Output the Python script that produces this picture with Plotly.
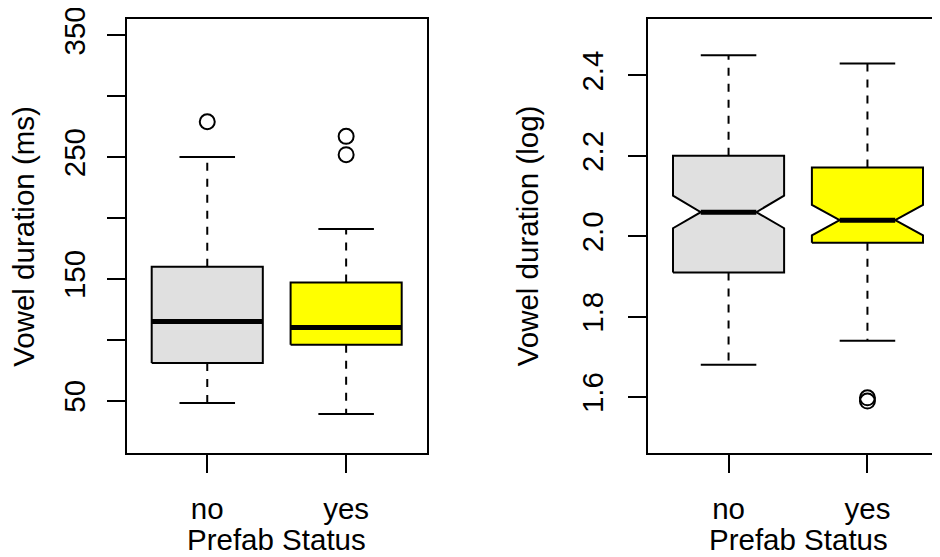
import plotly.graph_objects as go

# ---------------- data ----------------
categories = ["no", "yes"]

# Vowel duration (ms)
ms_lower = [48, 39]
ms_q1 = [81, 96]
ms_median = [115, 110]
ms_q3 = [160, 147]
ms_upper = [250, 191]
ms_outliers = [[279], [252, 267]]

# Vowel duration (log)
lg_lower = [1.68, 1.74]
lg_q1 = [1.91, 1.984]
lg_median = [2.06, 2.04]
lg_q3 = [2.20, 2.171]
lg_upper = [2.45, 2.43]
lg_notch_lo = [2.02, 2.002]
lg_notch_hi = [2.101, 2.078]
lg_outliers = [[], [1.598, 1.590]]

ms_ticks = [50, 100, 150, 200, 250, 300, 350]
ms_ticktext = ["50", "", "150", "", "250", "", "350"]
lg_ticks = [1.6, 1.8, 2.0, 2.2, 2.4]
lg_ticktext = ["1.6", "1.8", "2.0", "2.2", "2.4"]

fills = ["#E0E0E0", "#FFFF00"]

# ---------------- styling ----------------
OFF = 8                      # page body margin of the html page
W, H = 940 - OFF, 557 - OFF
FONT = "Liberation Sans, Arial, Helvetica, sans-serif"
FS = 29.5
BW = 0.4      # box half width
SW = 0.2      # staple half width
LW = 2

fig = go.Figure()


def add_group(xa, ya, i, lo, q1, med, q3, hi, outs, nlo=None, nhi=None):
    x = i + 1
    for a, b in ((q3, hi), (q1, lo)):
        fig.add_trace(go.Scatter(x=[x, x], y=[a, b], mode="lines",
                                 line=dict(color="black", width=LW, dash="8px,8px"),
                                 xaxis=xa, yaxis=ya, hoverinfo="skip"))
    for v in (lo, hi):
        fig.add_trace(go.Scatter(x=[x - SW, x + SW], y=[v, v], mode="lines",
                                 line=dict(color="black", width=LW),
                                 xaxis=xa, yaxis=ya, hoverinfo="skip"))
    if nlo is None:
        bx = [x - BW, x + BW, x + BW, x - BW, x - BW]
        by = [q1, q1, q3, q3, q1]
        mx = [x - BW, x + BW]
    else:
        bx = [x - BW, x + BW, x + BW, x + BW / 2, x + BW, x + BW,
              x - BW, x - BW, x - BW / 2, x - BW, x - BW]
        by = [q1, q1, nlo, med, nhi, q3, q3, nhi, med, nlo, q1]
        mx = [x - BW / 2, x + BW / 2]
    fig.add_trace(go.Scatter(x=bx, y=by, mode="lines", fill="toself",
                             fillcolor=fills[i],
                             line=dict(color="black", width=LW),
                             xaxis=xa, yaxis=ya, hoverinfo="skip"))
    fig.add_trace(go.Scatter(x=mx, y=[med, med], mode="lines",
                             line=dict(color="black", width=5),
                             xaxis=xa, yaxis=ya, hoverinfo="skip"))
    if outs:
        fig.add_trace(go.Scatter(x=[x] * len(outs), y=outs, mode="markers",
                                 marker=dict(symbol="circle-open", size=15,
                                             color="black", line=dict(width=2)),
                                 xaxis=xa, yaxis=ya, hoverinfo="skip"))


for i in range(len(categories)):
    add_group("x", "y", i, ms_lower[i], ms_q1[i], ms_median[i], ms_q3[i],
              ms_upper[i], ms_outliers[i])
    add_group("x2", "y2", i, lg_lower[i], lg_q1[i], lg_median[i], lg_q3[i],
              lg_upper[i], lg_outliers[i], lg_notch_lo[i], lg_notch_hi[i])

# pixel geometry (page coordinates minus body offset)
top_px, bot_px = 19.2 - OFF, 453.3 - OFF
ydom = [(H - bot_px) / H, (H - top_px) / H]
lx0, lx1 = 126.7 - OFF, 426.7 - OFF
rx0 = 648.0 - OFF
ppu = (lx1 - lx0) / 2.16
rxmax = 0.42 + (W - rx0) / ppu

axis_common = dict(showgrid=False, zeroline=False, showline=True,
                   linecolor="black", linewidth=LW, ticks="outside",
                   ticklen=18, tickwidth=LW, tickcolor="black",
                   ticklabeloverflow="allow",
                   tickfont=dict(family=FONT, size=FS, color="black"))

fig.update_layout(
    width=W, height=H, showlegend=False,
    plot_bgcolor="white", paper_bgcolor="white",
    margin=dict(l=0, r=0, t=0, b=0, autoexpand=False),
    font=dict(family=FONT, size=FS, color="black"),
    xaxis=dict(domain=[lx0 / W, lx1 / W], range=[0.42, 2.58], mirror=True,
               tickvals=[1, 2], ticktext=categories, anchor="y",
               ticklabelstandoff=10, **axis_common),
    yaxis=dict(domain=ydom, range=[6.8, 363.2], mirror=True,
               tickvals=ms_ticks, ticktext=ms_ticktext, tickangle=-90,
               anchor="x", ticklabelstandoff=10, **axis_common),
    xaxis2=dict(domain=[rx0 / W, 1.0], range=[0.42, rxmax], mirror=True,
                tickvals=[1, 2], ticktext=categories, anchor="y2",
                ticklabelstandoff=10, **axis_common),
    yaxis2=dict(domain=ydom, range=[1.46, 2.54], mirror=False,
                tickvals=lg_ticks, ticktext=lg_ticktext, tickangle=-90,
                anchor="x2", ticklabelstandoff=13, **axis_common),
)

ann_font = dict(family=FONT, size=FS, color="black")
ycen = (H - (236.3 - OFF)) / H
fig.add_annotation(text="Vowel duration (ms)", xref="paper", yref="paper",
                   x=(23.5 - OFF) / W, y=ycen, textangle=-90,
                   showarrow=False, font=ann_font, xanchor="center", yanchor="middle")
fig.add_annotation(text="Vowel duration (log)", xref="paper", yref="paper",
                   x=(527 - OFF) / W, y=ycen, textangle=-90,
                   showarrow=False, font=ann_font, xanchor="center", yanchor="middle")
ytitle = (H - (539.8 - OFF)) / H
fig.add_annotation(text="Prefab Status", xref="paper", yref="paper",
                   x=(lx0 + lx1) / 2 / W, y=ytitle,
                   showarrow=False, font=ann_font, xanchor="center", yanchor="middle")
fig.add_annotation(text="Prefab Status", xref="paper", yref="paper",
                   x=(798 - OFF) / W, y=ytitle,
                   showarrow=False, font=ann_font, xanchor="center", yanchor="middle")

fig.write_html("out.html")
